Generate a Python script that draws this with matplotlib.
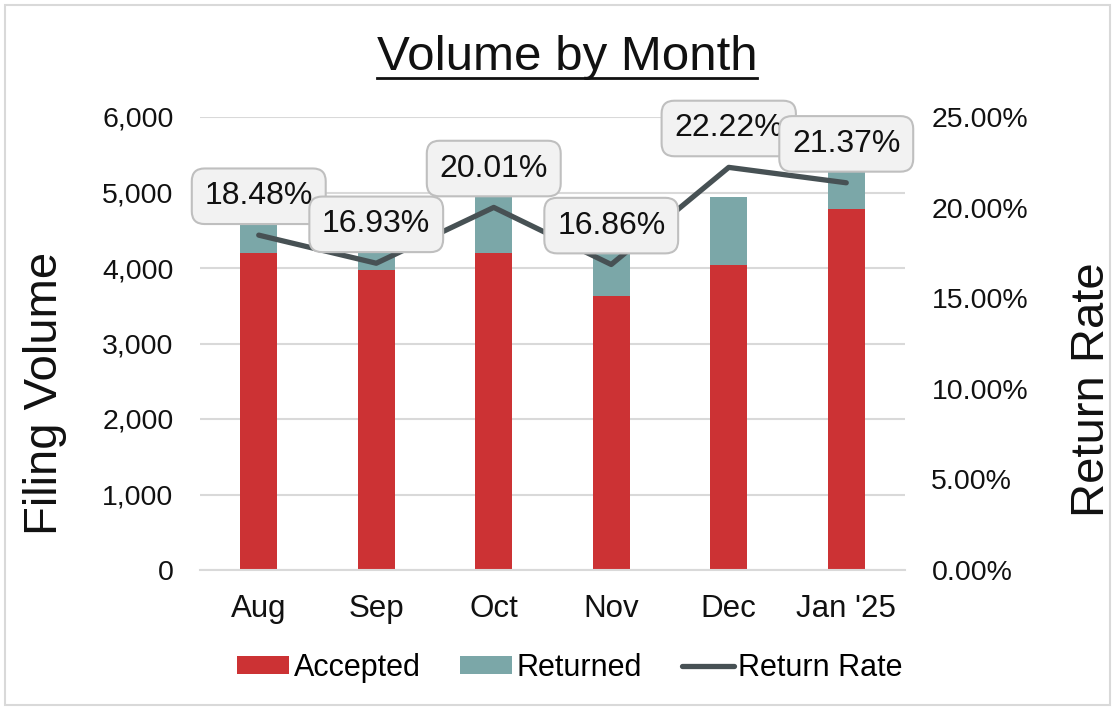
import matplotlib.pyplot as plt
from matplotlib.ticker import FuncFormatter, MultipleLocator
from matplotlib.lines import Line2D
from matplotlib.patches import Rectangle
import numpy as np

plt.rcParams['font.family'] = ['Liberation Sans', 'DejaVu Sans']

months = ['Aug', 'Sep', 'Oct', 'Nov', 'Dec', "Jan '25"]
accepted = [4203, 3974, 4203, 3633, 4040, 4781]
returned = [777, 673, 841, 612, 897, 1022]
return_rate = [18.48, 16.93, 20.01, 16.86, 22.22, 21.37]

red = '#CC3234'
teal = '#7BA7A8'
line_col = '#475154'
grid_col = '#D9D9D9'

fig = plt.figure(figsize=(11.14, 7.08), dpi=100)
fig.patches.append(Rectangle((5 / 1114, 3 / 708), 1105 / 1114, 700 / 708,
                             transform=fig.transFigure, fill=False,
                             edgecolor=grid_col, linewidth=1.5))

ax = fig.add_axes([200 / 1114, 138 / 708, 705 / 1114, 453 / 708])
ax2 = ax.twinx()

x = np.arange(len(months))
ax.bar(x, accepted, width=0.315, color=red, label='Accepted', zorder=2)
ax.bar(x, returned, width=0.315, bottom=accepted, color=teal, label='Returned', zorder=2)

ax.set_xlim(-0.5, len(months) - 0.5)
ax.set_ylim(0, 6000)
ax.yaxis.set_major_locator(MultipleLocator(1000))
ax.yaxis.set_major_formatter(FuncFormatter(lambda v, p: f'{int(v):,}'))
ax.grid(axis='y', color=grid_col, linewidth=1.5, zorder=0)
ax.set_axisbelow(True)
ax.set_xticks(x)
ax.set_xticklabels(months)
for s in ['top', 'left', 'right']:
    ax.spines[s].set_visible(False)
ax.spines['bottom'].set_color(grid_col)
ax.spines['bottom'].set_linewidth(1.5)
ax.tick_params(axis='both', length=0, colors='#111111')
ax.tick_params(axis='y', labelsize=20.5, pad=19)
ax.tick_params(axis='x', labelsize=22.5, pad=17)

ax2.plot(x, return_rate, color=line_col, linewidth=3.8, label='Return Rate',
         solid_capstyle='round', zorder=3)
ax2.set_ylim(0, 25)
ax2.yaxis.set_major_locator(MultipleLocator(5))
ax2.yaxis.set_major_formatter(FuncFormatter(lambda v, p: f'{v:.2f}%'))
for s in ['top', 'left', 'right', 'bottom']:
    ax2.spines[s].set_visible(False)
ax2.tick_params(axis='y', length=0, labelsize=20.5, colors='#111111', pad=19)

for xi, r in zip(x, return_rate):
    ax2.annotate(f'{r:.2f}%', (xi, r), xytext=(0, 28), textcoords='offset points',
                 ha='center', va='center', fontsize=23, color='#111111', zorder=5,
                 bbox=dict(boxstyle='round,pad=0.4,rounding_size=0.4',
                           facecolor='#F2F2F2', edgecolor='#BFBFBF', linewidth=1.5))

fig.text(45 / 1114, 1 - 393 / 708, 'Filing Volume', rotation=90, ha='center', va='center',
         fontsize=34, color='#111111')
fig.text(1092 / 1114, 1 - 390 / 708, 'Return Rate', rotation=90, ha='center', va='center',
         fontsize=34, color='#111111')

title = fig.text(567 / 1114, 1 - 57 / 708, 'Volume by Month', ha='center', va='center',
                 fontsize=35.5, color='#111111')
fig.canvas.draw()
bb = title.get_window_extent().transformed(fig.transFigure.inverted())
fig.add_artist(Line2D([bb.x0, bb.x1], [1 - 78 / 708, 1 - 78 / 708],
                      transform=fig.transFigure, color='#111111', linewidth=2))

h1, l1 = ax.get_legend_handles_labels()
h2, l2 = ax2.get_legend_handles_labels()
fig.legend(h1 + h2, l1 + l2, loc='center', bbox_to_anchor=(570 / 1114, 1 - 668 / 708),
           ncol=3, frameon=False, fontsize=22, handlelength=1.7, handleheight=0.5,
           handletextpad=0.15, columnspacing=1.3)

fig.savefig('out.png', dpi=100)
